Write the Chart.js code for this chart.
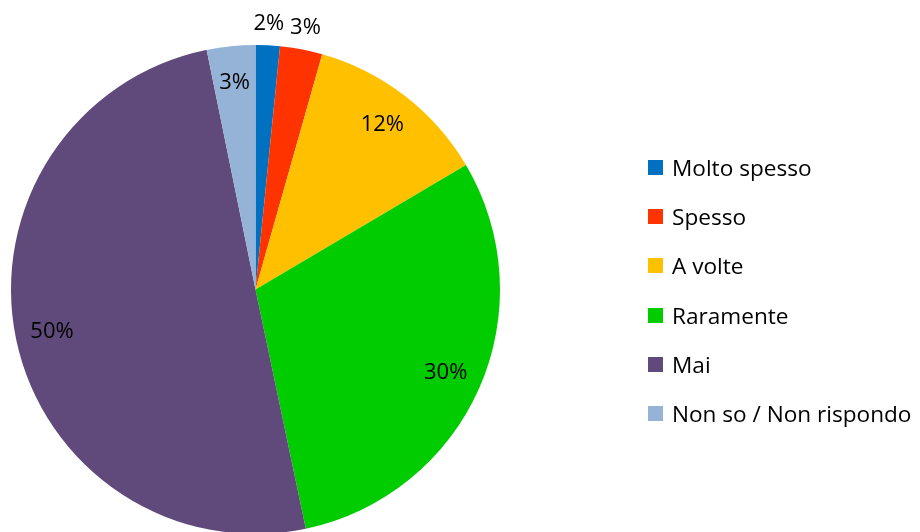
<!DOCTYPE html>
<html>
<head>
  <meta charset="utf-8" />
  <style>
    html, body {
      margin: 0;
      padding: 0;
      background: #fff;
      overflow: hidden;
    }

    .wrap {
      position: relative;
      width: 920px;
      height: 540px;
    }

    .legend {
      position: absolute;
      left: 648px;
      top: 143px;
      margin: 0;
      padding: 0;
      list-style: none;
      font-family: "Open Sans", sans-serif;
      font-size: 22.6px;
      color: #000;
    }

    .legend li {
      display: flex;
      align-items: center;
      height: 49.2px;
      white-space: nowrap;
    }

    .legend .box {
      width: 15px;
      height: 15px;
      margin-right: 9px;
    }
  </style>
</head>

<body>
  <div class="wrap">
    <canvas id="pieChart"></canvas>
    <ul class="legend" id="legend"></ul>
  </div>

  <script src="https://cdn.jsdelivr.net/npm/chart.js"></script>

  <script>
    const categories = ["Molto spesso", "Spesso", "A volte", "Raramente", "Mai", "Non so / Non rispondo"];
    const shares = [1.6, 2.8, 12.1, 30.2, 50.1, 3.2];
    const colors = ["#0070C0", "#FF3300", "#FFC000", "#00CC00", "#604A7B", "#95B3D7"];

    // percent labels, small slices go outside the pie like in Excel
    const pieLabels = {
      id: "pieLabels",
      afterDatasetsDraw(chart) {
        const ctx = chart.ctx;
        const meta = chart.getDatasetMeta(0);
        ctx.save();
        ctx.font = "22px 'Open Sans', sans-serif";
        ctx.fillStyle = "#000";
        ctx.textAlign = "center";
        ctx.textBaseline = "middle";
        meta.data.forEach((arc, i) => {
          const v = shares[i];
          const mid = (arc.startAngle + arc.endAngle) / 2;
          const k = v < 3 ? 1.09 : 0.85;
          const x = arc.x + Math.cos(mid) * arc.outerRadius * k;
          const y = arc.y + Math.sin(mid) * arc.outerRadius * k;
          ctx.fillText(Math.round(v) + "%", x, y);
        });
        ctx.restore();
      }
    };

    new Chart(document.getElementById("pieChart"), {
      type: "pie",
      data: {
        labels: categories,
        datasets: [{
          data: shares,
          backgroundColor: colors,
          borderWidth: 0
        }]
      },
      options: {
        responsive: true,
        maintainAspectRatio: false,
        animation: false,
        layout: {
          padding: { top: 45, left: 11, right: 420, bottom: 6 }
        },
        plugins: {
          legend: { display: false },
          tooltip: { enabled: false }
        }
      },
      plugins: [pieLabels]
    });

    // legend built from the same arrays
    const legend = document.getElementById("legend");
    categories.forEach((name, i) => {
      const li = document.createElement("li");
      const box = document.createElement("span");
      box.className = "box";
      box.style.background = colors[i];
      li.appendChild(box);
      li.appendChild(document.createTextNode(name));
      legend.appendChild(li);
    });
  </script>
</body>

</html>
